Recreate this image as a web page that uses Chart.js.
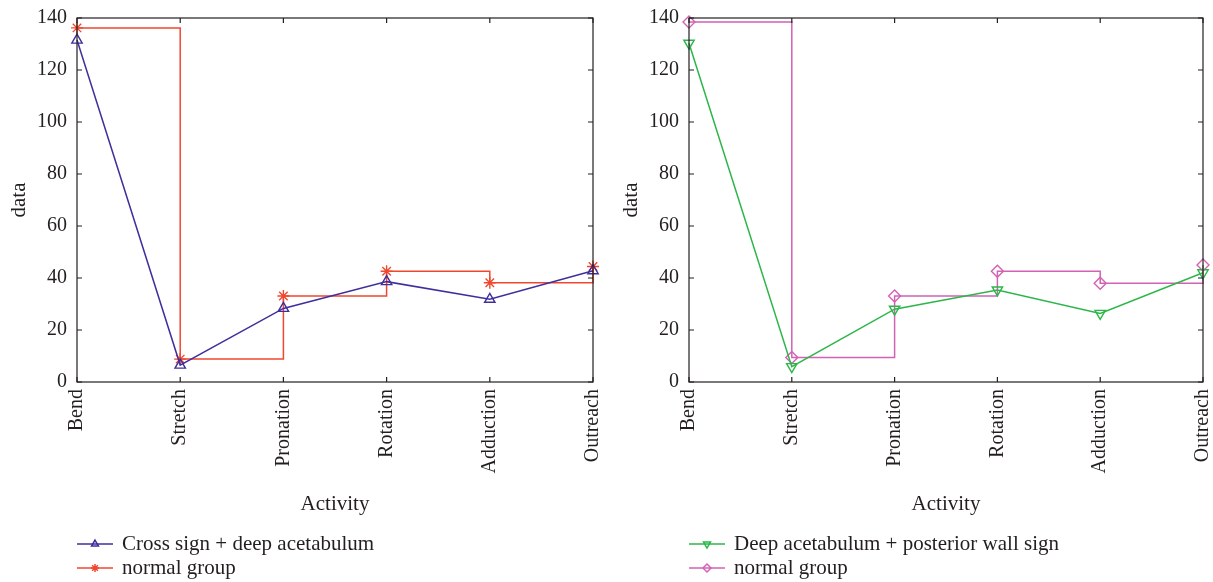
<!DOCTYPE html>
<html>
<head>
<meta charset="utf-8">
<script src="https://cdn.jsdelivr.net/npm/chart.js"></script>
<style>
  body { margin: 0; background: #fff; }
  #wrap { display: flex; width: 1213px; height: 582px; }
</style>
</head>
<body>
<div id="wrap">
  <canvas id="grafico1" width="606" height="582"></canvas>
  <canvas id="grafico2" width="607" height="582"></canvas>
</div>
<script>
const atividades = ['Bend', 'Stretch', 'Pronation', 'Rotation', 'Adduction', 'Outreach'];
const ticksY = [0, 20, 40, 60, 80, 100, 120, 140];

const crossSign = [131.5, 6.5, 28.3, 38.6, 31.8, 42.8];
const normal1 = [136.2, 8.8, 33.1, 42.6, 38.2, 44.4];
const posteriorWall = [130.3, 5.9, 28.0, 35.4, 26.4, 42.0];
const normal2 = [138.5, 9.4, 33.1, 42.6, 38.0, 45.0];

const corTexto = '#231f20';
const fonte = 'Liberation Serif';

// box round the plot + inward tick marks
const moldura = {
  id: 'moldura',
  afterDraw(chart) {
    const ctx = chart.ctx;
    const a = chart.chartArea;
    const sx = chart.scales.x, sy = chart.scales.y;
    ctx.save();
    ctx.strokeStyle = corTexto;
    ctx.lineWidth = 1.2;
    ctx.strokeRect(a.left, a.top, a.right - a.left, a.bottom - a.top);
    ctx.beginPath();
    sx.ticks.forEach((t, i) => {
      const x = sx.getPixelForTick(i);
      ctx.moveTo(x, a.bottom); ctx.lineTo(x, a.bottom - 5);
      ctx.moveTo(x, a.top); ctx.lineTo(x, a.top + 5);
    });
    sy.ticks.forEach((t, i) => {
      const y = sy.getPixelForTick(i);
      ctx.moveTo(a.left, y); ctx.lineTo(a.left + 5, y);
      ctx.moveTo(a.right, y); ctx.lineTo(a.right - 5, y);
    });
    ctx.stroke();
    ctx.restore();
  }
};

// legend: one row per series, line with marker in the middle
const legenda = {
  id: 'legenda',
  afterDraw(chart) {
    const ctx = chart.ctx;
    const x0 = chart.chartArea.left;
    ctx.save();
    chart.data.datasets.forEach((ds, i) => {
      const y = chart.height - 38 + i * 24;
      ctx.strokeStyle = ds.borderColor;
      ctx.lineWidth = 1.5;
      ctx.beginPath();
      ctx.moveTo(x0, y); ctx.lineTo(x0 + 36, y);
      ctx.stroke();
      ctx.fillStyle = 'rgba(0,0,0,0)';
      Chart.helpers.drawPoint(ctx, {
        pointStyle: ds.pointStyle,
        rotation: ds.pointRotation || 0,
        radius: 4,
        borderWidth: 1.3
      }, x0 + 18, y);
      ctx.fillStyle = corTexto;
      ctx.font = '21px "' + fonte + '"';
      ctx.textBaseline = 'middle';
      ctx.textAlign = 'left';
      ctx.fillText(ds.label, x0 + 45, y);
    });
    ctx.restore();
  }
};

function serie(label, valores, cor, marcador, rotacao, escada) {
  return {
    label: label,
    data: valores,
    borderColor: cor,
    borderWidth: 1.5,
    pointStyle: marcador,
    pointRotation: rotacao,
    pointRadius: 6,
    pointBorderWidth: 1.4,
    pointBorderColor: cor,
    pointBackgroundColor: 'rgba(0,0,0,0)',
    stepped: escada,
    tension: 0,
    fill: false,
    clip: false
  };
}

function desenharGrafico(id, datasets, padEsq, padDir) {
  return new Chart(document.getElementById(id), {
    type: 'line',
    data: { labels: atividades, datasets: datasets },
    plugins: [moldura, legenda],
    options: {
      responsive: false,
      animation: false,
      layout: { padding: { left: padEsq, right: padDir, top: 18, bottom: 60 } },
      plugins: { legend: { display: false }, tooltip: { enabled: false } },
      scales: {
        x: {
          offset: false,
          grid: { display: false, drawTicks: false },
          border: { display: false },
          ticks: {
            autoSkip: false, maxRotation: 90, minRotation: 90, padding: 7,
            color: corTexto, font: { family: fonte, size: 20 }
          },
          title: {
            display: true, text: 'Activity', color: corTexto,
            font: { family: fonte, size: 21 }, padding: { top: 0, bottom: 5 }
          },
          afterFit(scale) {
            scale.height = 140;
            scale.paddingLeft = 0;
            scale.paddingRight = 0;
          }
        },
        y: {
          min: 0, max: 140,
          grid: { display: false, drawTicks: false },
          border: { display: false },
          afterBuildTicks(scale) { scale.ticks = ticksY.map(v => ({ value: v })); },
          ticks: { padding: 10, color: corTexto, font: { family: fonte, size: 20 } },
          title: {
            display: true, text: 'data', color: corTexto,
            font: { family: fonte, size: 21 }, padding: { top: 7, bottom: 0 }
          },
          afterFit(scale) {
            scale.width = 77;
            scale.paddingTop = 0;
            scale.paddingBottom = 0;
          }
        }
      }
    }
  });
}

desenharGrafico('grafico1', [
  serie('Cross sign + deep acetabulum', crossSign, '#3f2f9c', 'triangle', 0, false),
  serie('normal group', normal1, '#f0482e', 'star', 0, true)
], 0, 13);

desenharGrafico('grafico2', [
  serie('Deep acetabulum + posterior wall sign', posteriorWall, '#2cb64a', 'triangle', 180, false),
  serie('normal group', normal2, '#d262b4', 'rectRot', 0, true)
], 6, 10);
</script>
</body>
</html>
